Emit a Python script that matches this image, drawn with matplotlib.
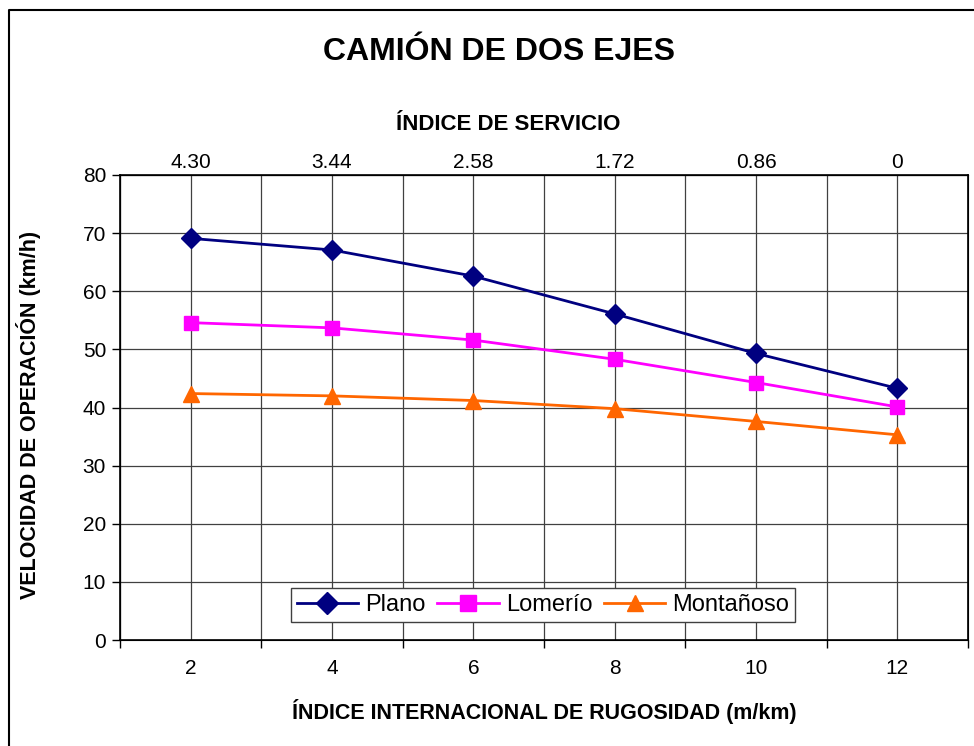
import matplotlib.pyplot as plt
from matplotlib.lines import Line2D

plt.rcParams["font.family"] = ["Liberation Sans", "DejaVu Sans"]

# data
iri = [2, 4, 6, 8, 10, 12]
service_labels = ["4.30", "3.44", "2.58", "1.72", "0.86", "0"]
plano = [69.1, 67.1, 62.6, 56.1, 49.3, 43.3]
lomerio = [54.6, 53.7, 51.6, 48.3, 44.3, 40.1]
montanoso = [42.4, 42.0, 41.2, 39.8, 37.6, 35.3]

fig = plt.figure(figsize=(9.74, 7.46), dpi=100)
ax = fig.add_axes([120 / 974, 1 - 640 / 746, 848 / 974, 465 / 746])

ax.plot(iri, plano, color="#000080", lw=2, marker="D", ms=10, label="Plano")
ax.plot(iri, lomerio, color="#FF00FF", lw=2, marker="s", ms=10, label="Lomerío")
ax.plot(iri, montanoso, color="#FF6600", lw=2, marker="^", ms=11, label="Montañoso")

ax.set_xlim(1, 13)
ax.set_ylim(0, 80)

# tick marks on odd values, labels on even values
ax.set_xticks(range(1, 14, 2))
ax.set_xticklabels([])
ax.set_xticks(iri, minor=True)
ax.set_xticklabels([str(v) for v in iri], minor=True, fontsize=15)
ax.tick_params(axis="x", which="major", direction="out", length=6, width=1)
ax.tick_params(axis="x", which="minor", length=0, pad=14)
ax.set_yticks(range(0, 81, 10))
ax.tick_params(axis="y", direction="out", length=6, width=1, labelsize=15, pad=4)

for v in range(1, 14):
    ax.axvline(v, color="#404040", lw=0.9, zorder=0)
for v in range(10, 81, 10):
    ax.axhline(v, color="#404040", lw=0.9, zorder=0)

for s in ax.spines.values():
    s.set_linewidth(1.2)

top = ax.twiny()
top.set_xlim(1, 13)
top.set_xticks(iri)
top.set_xticklabels(service_labels, fontsize=15)
top.tick_params(axis="x", length=0, pad=2)

fig.text(508 / 974, 1 - 124 / 746, "ÍNDICE DE SERVICIO", fontsize=16,
         fontweight="bold", ha="center", va="center")
fig.text(544 / 974, 1 - 712 / 746, "ÍNDICE INTERNACIONAL DE RUGOSIDAD (m/km)",
         fontsize=15.5, fontweight="bold", ha="center", va="center")
fig.text(29 / 974, 1 - 415 / 746, "VELOCIDAD DE OPERACIÓN (km/h)", fontsize=15.5,
         fontweight="bold", ha="center", va="center", rotation=90)

fig.text(499 / 974, 1 - 52 / 746, "CAMIÓN DE DOS EJES", fontsize=23,
         fontweight="bold", ha="center", va="center")

leg = ax.legend(loc="center", bbox_to_anchor=(543 / 974, 1 - 605 / 746),
                bbox_transform=fig.transFigure, ncol=3, fontsize=17,
                frameon=True, fancybox=False, framealpha=1, borderpad=0.25,
                handlelength=2.6, handletextpad=0.3, columnspacing=0.5,
                markerscale=1.1)
leg.get_frame().set_edgecolor("#404040")
leg.get_frame().set_linewidth(1.0)

# chart area border: only the left and top edges are visible in the crop
bx, by = 8.5 / 974, 1 - 9.5 / 746
fig.add_artist(Line2D([bx, bx, 1], [0, by, by], transform=fig.transFigure,
                      color="black", lw=1.5))

fig.savefig("out.png", dpi=100)
